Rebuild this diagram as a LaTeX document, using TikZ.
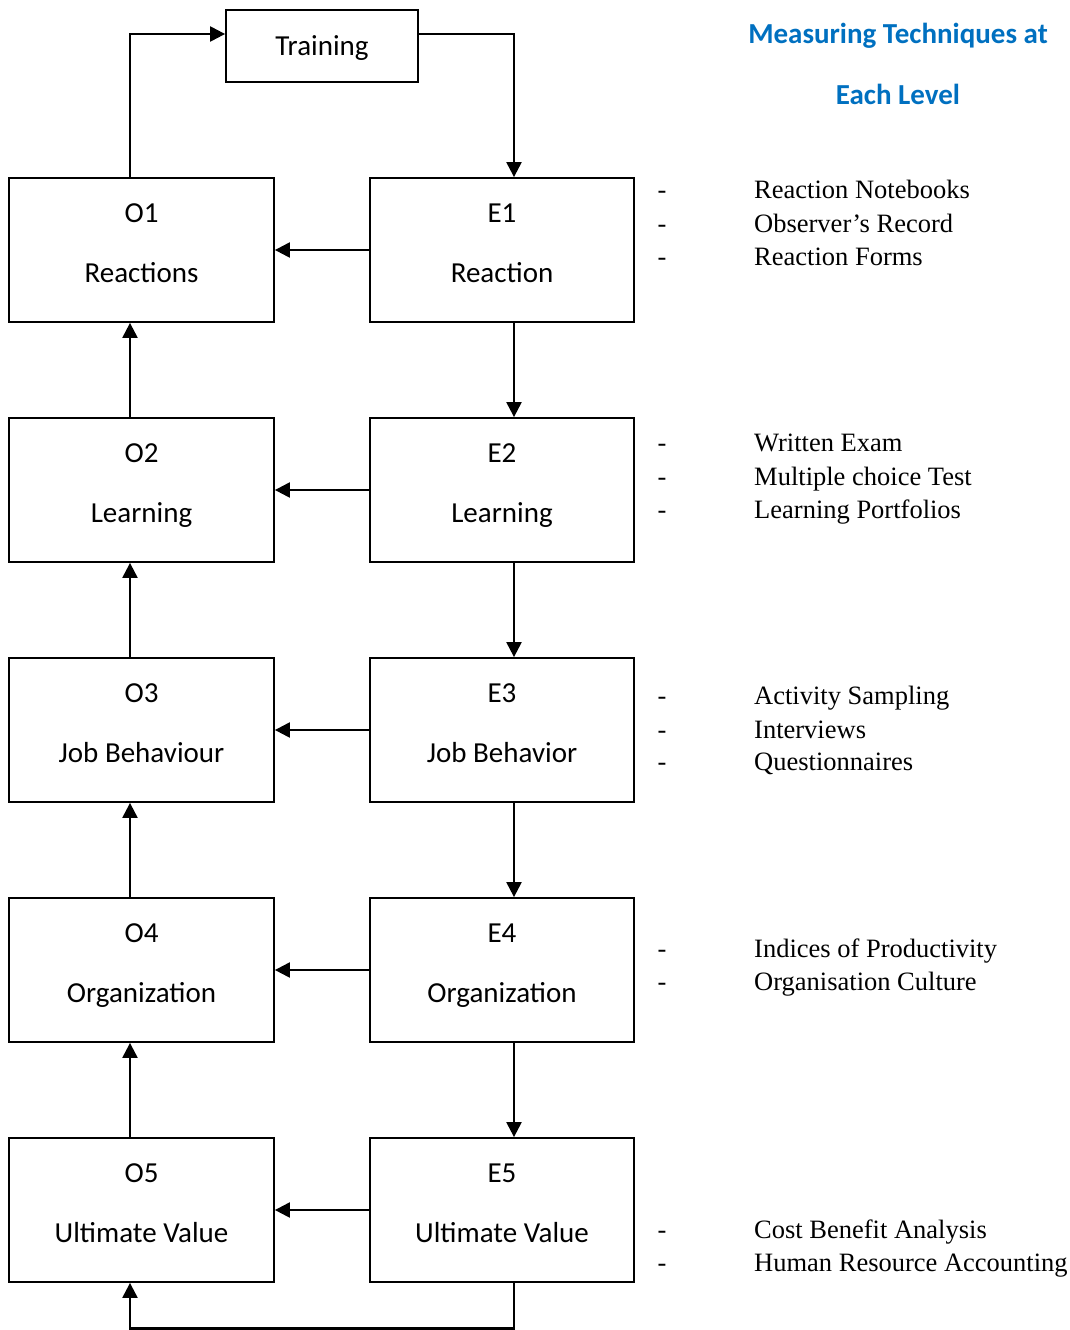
\documentclass[tikz,border=0pt]{standalone}
\usepackage{fontspec}
\setmainfont{Liberation Serif}
\newfontfamily\carlitofont{Carlito}
\usetikzlibrary{arrows.meta}
\definecolor{titleblue}{RGB}{0,112,192}
\begin{document}
\begin{tikzpicture}[x=1pt,y=-1pt,
  box/.style={draw,line width=1.8pt,minimum height=144pt,inner sep=0pt},
  obox/.style={box,minimum width=265pt},
  ebox/.style={box,minimum width=264pt},
  lbl/.style={anchor=base,inner sep=0pt,font=\carlitofont\fontsize{29}{34}\selectfont},
  ttl/.style={anchor=base,inner sep=0pt,text=titleblue,font=\carlitofont\bfseries\fontsize{29}{34}\selectfont},
  itm/.style={anchor=base west,inner sep=0pt,font=\fontsize{26.5}{30}\selectfont},
  dsh/.style={anchor=base,inner sep=0pt,font=\fontsize{26.5}{30}\selectfont},
  arr/.style={line width=2.2pt,-{Triangle[length=15pt,width=15pt]}}]
\useasboundingbox (0,0) rectangle (1070,1330);
\coordinate (oc) at (130,0);
\coordinate (ec) at (514,0);
\coordinate (ty) at (0,34);
\coordinate (by) at (0,1328.5);
% Training
\node[draw,line width=1.8pt,minimum width=192pt,minimum height=72pt,inner sep=0pt] (T) at (322,46) {};
\node[lbl] (Tl) at (322,56) {Training};
% boxes
\foreach \i/\cy/\ot/\et in {1/250/Reactions/Reaction,2/490/Learning/Learning,3/730/Job Behaviour/Job Behavior,4/970/Organization/Organization,5/1210/Ultimate Value/Ultimate Value}{
  \node[obox] (O\i) at (141.5,\cy) {};
  \node[ebox] (E\i) at (502,\cy) {};
  \node[lbl] (O\i a) at (141.5,\cy-28) {O\i};
  \node[lbl] (O\i b) at (141.5,\cy+32) {\ot};
  \node[lbl] (E\i a) at (502,\cy-28) {E\i};
  \node[lbl] (E\i b) at (502,\cy+32) {\et};
  \draw[arr] (E\i.west) -- (O\i.east);
}
% vertical connectors
\foreach \a/\b in {1/2,2/3,3/4,4/5}{
  \draw[arr] (E\a.south -| ec) -- (E\b.north -| ec);
  \draw[arr] (O\b.north -| oc) -- (O\a.south -| oc);
}
\draw[arr] (O1.north -| oc) |- (T.west |- ty);
\draw[arr] (T.east |- ty) -| (E1.north -| ec);
\draw[arr] (E5.south -| ec) -- (ec |- by) -- (oc |- by) -- (O5.south -| oc);
% title
\node[ttl] (t1) at (898,44) {Measuring Techniques at};
\node[ttl] (t2) at (898,104) {Each Level};
% items
\foreach \y/\t in {198/Reaction Notebooks,232/Observer’s Record,265/Reaction Forms,
  451/Written Exam,485/Multiple choice Test,518/Learning Portfolios,
  704/Activity Sampling,738/Interviews,770/Questionnaires,
  957/Indices of Productivity,990/Organisation Culture,
  1238/Cost Benefit Analysis,1271/Human Resource Accounting}{
  \node[dsh] at (662,\y) {-};
  \node[itm] at (754,\y) {\t};
}
\end{tikzpicture}
\end{document}
